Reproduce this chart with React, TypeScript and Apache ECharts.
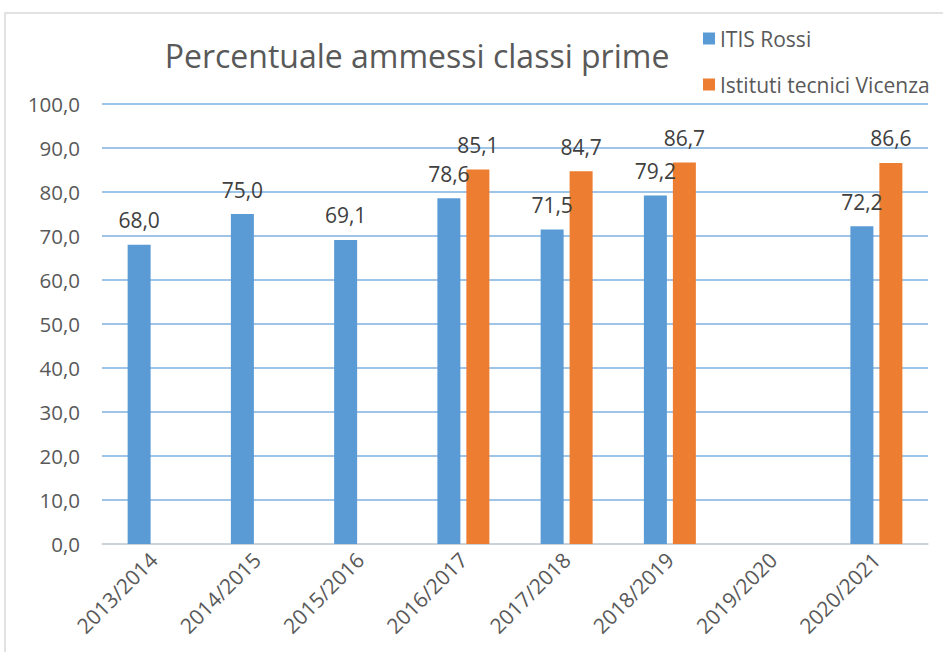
import React, { useEffect, useRef } from "react";
import * as echarts from "echarts";

const categories = ["2013/2014", "2014/2015", "2015/2016", "2016/2017", "2017/2018", "2018/2019", "2019/2020", "2020/2021"];
const itisRossi: (number | null)[] = [68.0, 75.0, 69.1, 78.6, 71.5, 79.2, null, 72.2];
const istitutiVicenza: (number | null)[] = [null, null, null, 85.1, 84.7, 86.7, null, 86.6];
const seriesNames = ["ITIS Rossi", "Istituti tecnici Vicenza"];
const titleText = "Percentuale ammessi classi prime";

const FONT = "'Open Sans', 'Noto Sans', sans-serif";
const fmt = (v: number) => v.toFixed(1).replace(".", ",");

export default function App() {
  const ref = useRef<HTMLDivElement>(null);
  useEffect(() => {
    if (!ref.current) return;
    const chart = echarts.init(ref.current, undefined, { renderer: "svg" });
    const labelStyle = {
      show: true,
      position: "top" as const,
      distance: 14,
      color: "#404040",
      fontSize: 21,
      fontFamily: FONT,
      formatter: (p: any) => (p.value == null ? "" : fmt(p.value)),
    };
    chart.setOption({
      animation: false,
      backgroundColor: "#ffffff",
      textStyle: { fontFamily: FONT },
      title: {
        text: titleText,
        left: 412,
        top: 34,
        textAlign: "center",
        textStyle: { fontFamily: FONT, fontSize: 32, fontWeight: "normal", color: "#595959" },
      },
      legend: {
        orient: "vertical",
        left: 703,
        top: 28,
        padding: 0,
        itemWidth: 12,
        itemHeight: 12,
        itemGap: 25,
        icon: "rect",
        textStyle: { fontFamily: FONT, fontSize: 21, color: "#595959", padding: [0, 0, 0, 0] },
        data: seriesNames,
      },
      grid: { left: 102, right: 15, top: 104, bottom: 108, containLabel: false },
      xAxis: {
        type: "category",
        data: categories,
        axisLine: { show: true, lineStyle: { color: "#D9D9D9", width: 1.5 } },
        axisTick: { show: false },
        axisLabel: { rotate: 45, color: "#595959", fontSize: 21, fontFamily: FONT, margin: 12, interval: 0 },
      },
      yAxis: {
        type: "value",
        min: 0,
        max: 100,
        interval: 10,
        axisLine: { show: false },
        axisTick: { show: false },
        splitLine: { lineStyle: { color: "#7EB1E0", width: 1.5 } },
        axisLabel: { color: "#595959", fontSize: 20.5, fontFamily: FONT, margin: 22, formatter: (v: number) => fmt(v) },
      },
      graphic: [
        {
          type: "rect",
          shape: { x: 5, y: 13, width: 1000, height: 700 },
          style: { fill: "none", stroke: "#D9D9D9", lineWidth: 1.5 },
          silent: true,
          z: -1,
        },
      ],
      series: [
        {
          name: seriesNames[0],
          type: "bar",
          data: itisRossi,
          barWidth: 23,
          barGap: "26%",
          itemStyle: { color: "#5B9BD5" },
          label: labelStyle,
        },
        {
          name: seriesNames[1],
          type: "bar",
          data: istitutiVicenza,
          barWidth: 23,
          barGap: "26%",
          itemStyle: { color: "#ED7D31" },
          label: labelStyle,
        },
      ],
    });
    return () => chart.dispose();
  }, []);
  return <div ref={ref} style={{ position: "fixed", left: 0, top: 0, width: 943, height: 652 }} />;
}
